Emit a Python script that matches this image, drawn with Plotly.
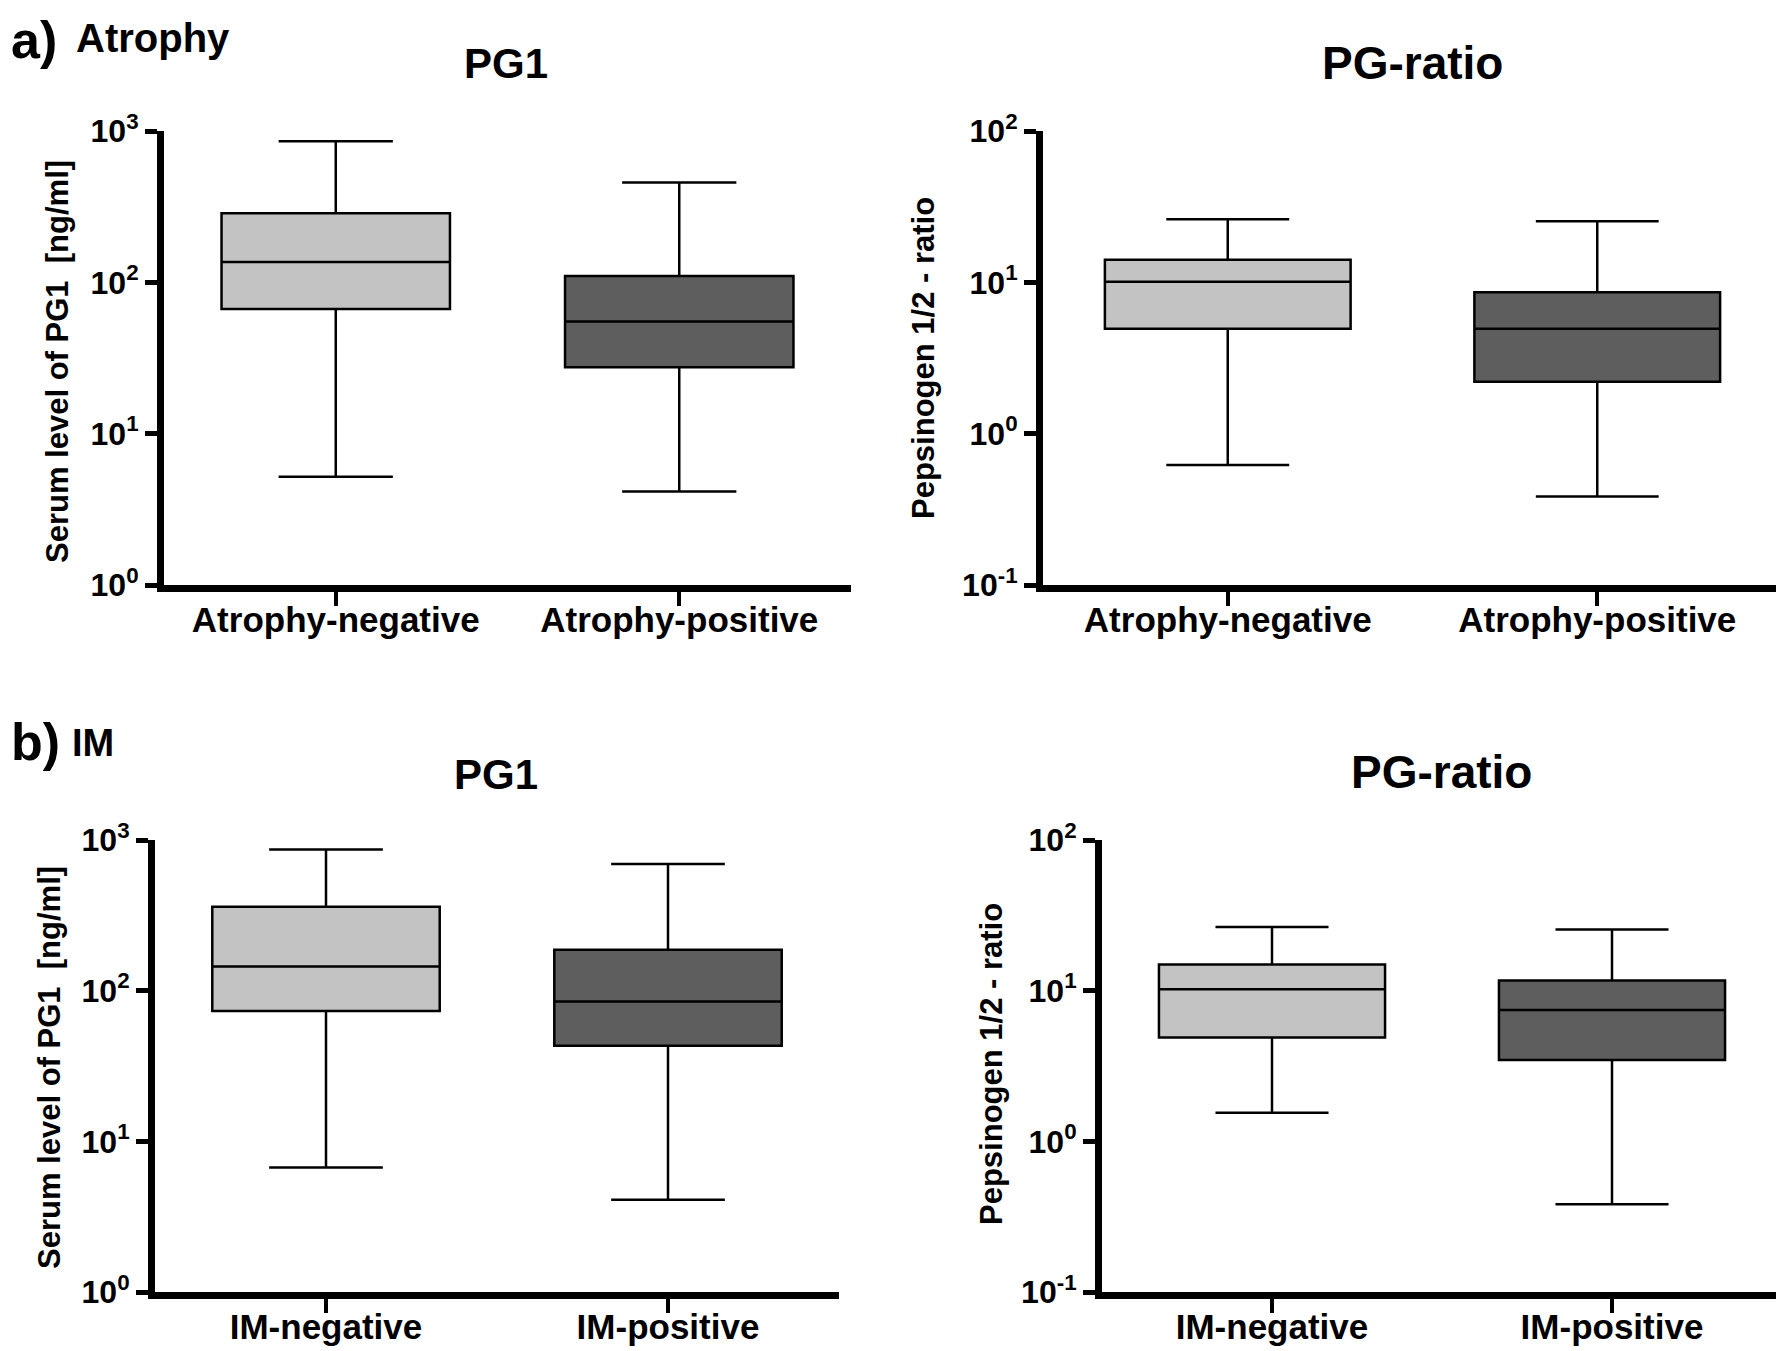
import plotly.graph_objects as go

# the page body keeps its default 8px margin: the figure starts 8px in,
# so every reference pixel position is shifted by 8px and the figure
# runs to the window's right and bottom edges
OFF = 8
W, H = 1784 - OFF, 1351 - OFF

# categories
atrophy_groups = ["Atrophy-negative", "Atrophy-positive"]
im_groups = ["IM-negative", "IM-positive"]

# box statistics: [negative, positive]
atr_pg1_low = [5.2, 4.15]
atr_pg1_q1 = [66.7, 27.5]
atr_pg1_med = [136, 55.2]
atr_pg1_q3 = [286, 110]
atr_pg1_high = [855, 457]

atr_ratio_low = [0.62, 0.384]
atr_ratio_q1 = [4.94, 2.2]
atr_ratio_med = [10.1, 4.94]
atr_ratio_q3 = [14.1, 8.6]
atr_ratio_high = [26.1, 25.3]

im_pg1_low = [6.7, 4.1]
im_pg1_q1 = [73.4, 43.1]
im_pg1_med = [144.5, 84.8]
im_pg1_q3 = [361, 187]
im_pg1_high = [865, 692]

im_ratio_low = [1.55, 0.383]
im_ratio_q1 = [4.88, 3.47]
im_ratio_med = [10.2, 7.44]
im_ratio_q3 = [14.9, 11.7]
im_ratio_high = [26.5, 25.5]

# tick labels
pg1_tickvals = [1, 10, 100, 1000]
pg1_ticktext = ["10<sup>0</sup>", "10<sup>1</sup>", "10<sup>2</sup>", "10<sup>3</sup>"]
ratio_tickvals = [0.1, 1, 10, 100]
ratio_ticktext = ["10<sup>-1</sup>", "10<sup>0</sup>", "10<sup>1</sup>", "10<sup>2</sup>"]

FONT = "Liberation Sans"
fills = ["#c3c3c3", "#5e5e5e"]


def px(x):
    return min(max((x - OFF) / W, 0), 1)


def py(y):
    return min(max(1 - (y - OFF) / H, 0), 1)


fig = go.Figure()


def add_boxes(groups, low, q1, med, q3, high, xa, ya):
    for i, g in enumerate(groups):
        fig.add_trace(go.Box(
            x=[g], lowerfence=[low[i]], q1=[q1[i]], median=[med[i]],
            q3=[q3[i]], upperfence=[high[i]],
            fillcolor=fills[i], line=dict(color="black", width=2.5),
            width=0.665, whiskerwidth=0.5, boxpoints=False,
            showlegend=False, xaxis=xa, yaxis=ya,
        ))


add_boxes(atrophy_groups, atr_pg1_low, atr_pg1_q1, atr_pg1_med, atr_pg1_q3, atr_pg1_high, "x", "y")
add_boxes(atrophy_groups, atr_ratio_low, atr_ratio_q1, atr_ratio_med, atr_ratio_q3, atr_ratio_high, "x2", "y2")
add_boxes(im_groups, im_pg1_low, im_pg1_q1, im_pg1_med, im_pg1_q3, im_pg1_high, "x3", "y3")
add_boxes(im_groups, im_ratio_low, im_ratio_q1, im_ratio_med, im_ratio_q3, im_ratio_high, "x4", "y4")


def xaxis(left, right, anchor):
    return dict(domain=[px(left), px(right)], anchor=anchor, type="category", range=[-0.5, 1.5],
                showline=True, linewidth=7, linecolor="black", showgrid=False,
                ticks="outside", ticklen=14, tickwidth=4, tickcolor="black",
                ticklabelstandoff=-16,
                tickfont=dict(family=FONT, size=35, color="black", weight="bold"),
                zeroline=False, fixedrange=True)


def yaxis(top, bottom, anchor, rng, tv, tt):
    return dict(domain=[py(bottom), py(top)], anchor=anchor, type="log", range=rng,
                tickvals=tv, ticktext=tt,
                showline=True, linewidth=7, linecolor="black", showgrid=False,
                ticks="outside", ticklen=12, tickwidth=5, tickcolor="black",
                tickfont=dict(family=FONT, size=32, color="black", weight="bold"),
                zeroline=False, fixedrange=True)


fig.update_layout(
    width=W, height=H,
    margin=dict(l=0, r=0, t=0, b=0, autoexpand=False),
    paper_bgcolor="white", plot_bgcolor="white",
    boxmode="overlay",
    xaxis=xaxis(164, 851, "y"),
    yaxis=yaxis(131, 585, "x", [0, 3], pg1_tickvals, pg1_ticktext),
    xaxis2=xaxis(1043, 1782, "y2"),
    yaxis2=yaxis(131, 585, "x2", [-1, 2], ratio_tickvals, ratio_ticktext),
    xaxis3=xaxis(155, 839, "y3"),
    yaxis3=yaxis(840, 1292, "x3", [0, 3], pg1_tickvals, pg1_ticktext),
    xaxis4=xaxis(1102, 1782, "y4"),
    yaxis4=yaxis(840, 1292, "x4", [-1, 2], ratio_tickvals, ratio_ticktext),
)


def label(text, x, y, size, anchor="center", angle=0):
    fig.add_annotation(text=text, x=px(x), y=py(y), xref="paper", yref="paper",
                       xanchor=anchor, yanchor="middle", showarrow=False, textangle=angle,
                       font=dict(family=FONT, size=size, color="black", weight="bold"))


# panel letters and headings
label("a)", 9, 40, 52, "left")
label("Atrophy", 74, 38, 40, "left")
label("b)", 9, 742, 52, "left")
label("IM", 70, 743, 38, "left")
label("PG1", 506, 63, 42)
label("PG-ratio", 1412, 63, 46)
label("PG1", 496, 774, 42)
label("PG-ratio", 1441, 772, 46)

# y-axis titles
label("Serum level of PG1  [ng/ml]", 57, 362, 31, angle=-90)
label("Pepsinogen 1/2 - ratio", 924, 358, 31, angle=-90)
label("Serum level of PG1  [ng/ml]", 49, 1068, 31, angle=-90)
label("Pepsinogen 1/2 - ratio", 991, 1064, 31, angle=-90)

# no scrollbars: the figure reaches the window edges
fig.write_html(
    "out.html",
    post_script="document.documentElement.style.overflow='hidden';"
                "document.body.style.overflow='hidden';",
)
